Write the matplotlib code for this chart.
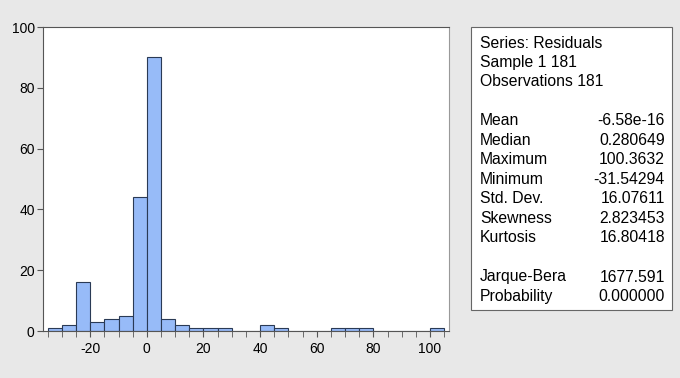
import numpy as np
import matplotlib.pyplot as plt
from matplotlib.patches import Rectangle

plt.rcParams['font.family'] = ['Liberation Sans', 'DejaVu Sans']
plt.rcParams['axes.unicode_minus'] = False

# histogram bins (width 5) and counts
bin_edges = list(range(-35, 110, 5))
counts = [1, 2, 16, 3, 4, 5, 44, 90, 4, 2, 1, 1, 1, 0, 0, 2, 1,
          0, 0, 0, 1, 1, 1, 0, 0, 0, 0, 1]

stat_names = ["Mean", "Median", "Maximum", "Minimum", "Std. Dev.",
              "Skewness", "Kurtosis"]
stat_values = ["-6.58e-16", "0.280649", "100.3632", "-31.54294",
               "16.07611", "2.823453", "16.80418"]
test_names = ["Jarque-Bera", "Probability"]
test_values = ["1677.591", "0.000000"]
header = ["Series: Residuals", "Sample 1 181", "Observations 181"]

fig = plt.figure(figsize=(6.8, 3.78), dpi=100)
fig.patch.set_facecolor('#e8e8e8')

ax = fig.add_axes([0.0632, 0.1243, 0.597, 0.804])
lefts = np.array(bin_edges[:-1])
ax.bar(lefts, counts, width=5, align='edge', color='#97bbf8',
       edgecolor='#2a3a55', linewidth=0.8)

ax.set_xlim(-36.7, 106.7)
ax.set_ylim(0, 100)
ax.set_xticks(range(-20, 101, 20))
ax.set_xticks(range(-35, 106, 5), minor=True)
ax.set_yticks(range(0, 101, 20))
ax.tick_params(axis='both', which='both', direction='out', length=4,
               color='#555555', labelsize=10, pad=2)
ax.tick_params(axis='x', which='major', pad=4)
for s in ['left', 'bottom', 'top']:
    ax.spines[s].set_color('#555555')
ax.spines['right'].set_color('#999999')

# statistics box
bx, by, bw, bh = 0.6926, 0.18, 0.2956, 0.749
fig.patches.append(Rectangle((bx, by), bw, bh, transform=fig.transFigure,
                             facecolor='white', edgecolor='#666666', lw=0.8))
lh = 19.5 / 378
y0 = (378 - 43) / 378
xl = 480 / 680
xr = 665 / 680
fs = 11.3
for i, t in enumerate(header):
    fig.text(xl, y0 - i * lh, t, fontsize=fs, va='center', ha='left')
for i, (n, v) in enumerate(zip(stat_names, stat_values)):
    y = y0 - (i + 4) * lh
    fig.text(xl, y, n, fontsize=fs, va='center', ha='left')
    fig.text(xr, y, v, fontsize=fs, va='center', ha='right')
for i, (n, v) in enumerate(zip(test_names, test_values)):
    y = y0 - (i + 12) * lh
    fig.text(xl, y, n, fontsize=fs, va='center', ha='left')
    fig.text(xr, y, v, fontsize=fs, va='center', ha='right')

fig.savefig('out.png', dpi=100, facecolor=fig.get_facecolor())
